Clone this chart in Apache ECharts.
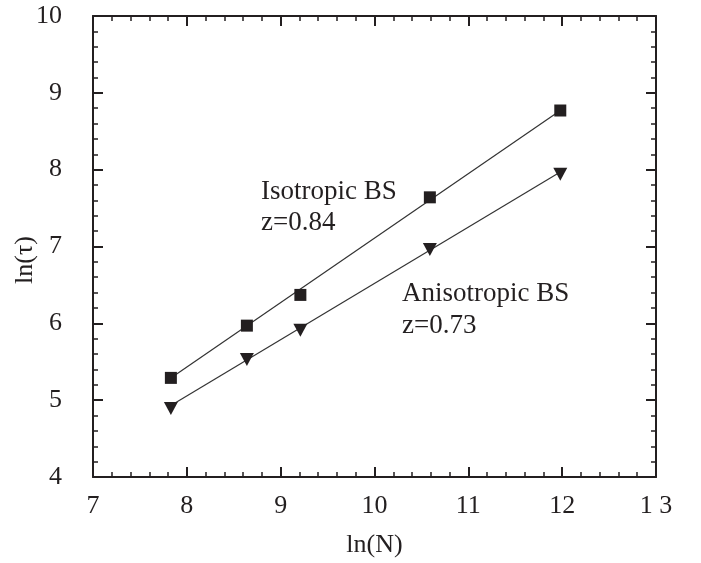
<!DOCTYPE html>
<html>
<head>
<meta charset="utf-8">
<script src="https://cdn.jsdelivr.net/npm/echarts@6/dist/echarts.min.js"></script>
<style>html,body{margin:0;padding:0;background:#fff}#c{width:701px;height:563px}</style>
</head>
<body>
<div id="c"></div>
<script>
// Data
var isoN = [7.83, 8.64, 9.21, 10.59, 11.98];
var isoTau = [5.29, 5.97, 6.37, 7.64, 8.77];
var anisoN = [7.83, 8.64, 9.21, 10.59, 11.98];
var anisoTau = [4.89, 5.53, 5.91, 6.96, 7.94];
var isoFitN = [7.83, 11.98];
var isoFitTau = [5.29, 8.77];
var anisoFitN = [7.83, 11.98];
var anisoFitTau = [4.93, 7.97];
var xTickValues = [7, 8, 9, 10, 11, 12, 13];
var xTickLabels = ['7', '8', '9', '10', '11', '12', '1 3'];
var yTickLabels = ['4', '5', '6', '7', '8', '9', '10'];

function pairs(a, b) { return a.map(function (v, i) { return [v, b[i]]; }); }

var FONT = 'Liberation Serif';
var INK = '#231f20';

function xAxisDef(pos, show) {
  return {
    type: 'value', position: pos, min: 7, max: 13, interval: 1,
    axisLine: { show: true, onZero: false, lineStyle: { color: INK, width: 2 } },
    axisTick: { show: true, inside: true, length: 10, lineStyle: { color: INK, width: 2 } },
    minorTick: { show: true, splitNumber: 5, length: 5, lineStyle: { color: INK, width: 1.5 } },
    splitLine: { show: false },
    axisLabel: {
      show: show, margin: 16, color: INK, fontFamily: FONT, fontSize: 26,
      formatter: function (v) { var i = xTickValues.indexOf(v); return i >= 0 ? xTickLabels[i] : ''; }
    },
    name: show ? 'ln(N)' : '', nameLocation: 'middle', nameGap: 55,
    nameTextStyle: { color: INK, fontFamily: FONT, fontSize: 26 }
  };
}
function yAxisDef(pos, show) {
  return {
    type: 'value', position: pos, min: 4, max: 10, interval: 1,
    axisLine: { show: true, onZero: false, lineStyle: { color: INK, width: 2 } },
    axisTick: { show: true, inside: true, length: 10, lineStyle: { color: INK, width: 2 } },
    minorTick: { show: true, splitNumber: 5, length: 5, lineStyle: { color: INK, width: 1.5 } },
    splitLine: { show: false },
    axisLabel: {
      show: show, margin: 31, color: INK, fontFamily: FONT, fontSize: 26, padding: [4, 0, 0, 0],
      formatter: function (v) { return yTickLabels[Math.round(v - 4)]; }
    }
  };
}

var chart = echarts.init(document.getElementById('c'), null, { renderer: 'canvas' });
chart.setOption({
  animation: false,
  backgroundColor: '#fff',
  grid: { left: 93, top: 16, right: 45, bottom: 86, containLabel: false },
  xAxis: [xAxisDef('bottom', true), xAxisDef('top', false)],
  yAxis: [yAxisDef('left', true), yAxisDef('right', false)],
  series: [
    { type: 'line', data: pairs(isoFitN, isoFitTau), symbol: 'none', lineStyle: { color: '#333', width: 1.2 }, z: 1 },
    { type: 'line', data: pairs(anisoFitN, anisoFitTau), symbol: 'none', lineStyle: { color: '#333', width: 1.2 }, z: 1 },
    { type: 'scatter', data: pairs(isoN, isoTau), symbol: 'rect', symbolSize: 12, itemStyle: { color: INK, opacity: 1 }, z: 3 },
    { type: 'scatter', data: pairs(anisoN, anisoTau), symbol: 'triangle', symbolRotate: 180, symbolSize: [14, 13], itemStyle: { color: INK, opacity: 1 }, z: 3 }
  ],
  graphic: [
    { type: 'text', x: 25, y: 260, rotation: Math.PI / 2,
      style: { text: 'ln(τ)', fill: INK, font: '26px "Liberation Serif"', textAlign: 'center', textVerticalAlign: 'middle' } },
    { type: 'text', left: 261, top: 178, style: { text: 'Isotropic BS', fill: INK, font: '27px "Liberation Serif"' } },
    { type: 'text', left: 261, top: 209, style: { text: 'z=0.84', fill: INK, font: '27px "Liberation Serif"' } },
    { type: 'text', left: 402, top: 280, style: { text: 'Anisotropic BS', fill: INK, font: '27px "Liberation Serif"' } },
    { type: 'text', left: 402, top: 312, style: { text: 'z=0.73', fill: INK, font: '27px "Liberation Serif"' } }
  ]
});
</script>
</body>
</html>
